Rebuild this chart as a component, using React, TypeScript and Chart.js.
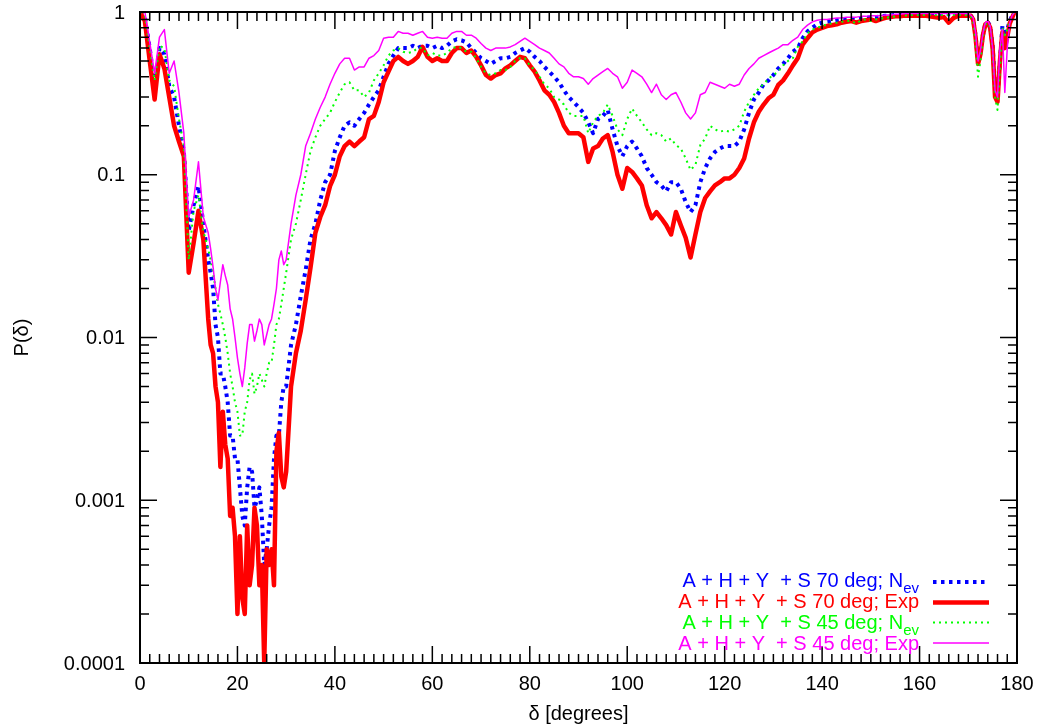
import React, { useEffect, useRef } from "react";
import { Chart, registerables } from "chart.js";

Chart.register(...registerables);

// ---------- data ----------
const DEGREES = [
  0, 1, 2, 3, 4, 5, 6, 7, 8, 9,
  10, 11, 12, 13,
  14, 14.5, 15, 15.5, 16, 16.5, 17, 17.5, 18, 18.5, 19, 19.5, 20, 20.5, 21, 21.5,
  22, 22.5, 23, 23.5, 24, 24.5, 25, 25.5, 26, 26.5, 27, 27.5, 28, 28.5, 29, 29.5,
  30, 31, 32, 33, 34, 35, 36, 37, 38, 39,
  40, 41, 42, 43, 44, 45, 46, 47, 48, 49,
  50, 51, 52, 53, 54, 55, 56, 57, 58, 59,
  60, 61, 62, 63, 64, 65, 66, 67, 68, 69,
  70, 71, 72, 73, 74, 75, 76, 77, 78, 79,
  80, 81, 82, 83, 84, 85, 86, 87, 88, 89,
  90, 91, 92, 93, 94, 95, 96, 97, 98, 99,
  100, 101, 102, 103, 104, 105, 106, 107, 108, 109,
  110, 111, 112, 113, 114, 115, 116, 117, 118, 119,
  120, 121, 122, 123, 124, 125, 126, 127, 128, 129,
  130, 131, 132, 133, 134, 135, 136, 137, 138, 139,
  140, 141, 142, 143, 144, 145, 146, 147, 148, 149,
  150, 151, 152, 153, 154, 155, 156, 157, 158, 159,
  160, 161, 162, 163, 164, 165, 166, 167, 168, 169,
  169.5, 170, 170.5, 171, 171.5, 172, 172.5, 173, 173.5, 174, 174.5,
  175, 175.5, 176, 176.5, 177, 177.5, 178, 178.5, 179, 179.5, 180,
];

// A + H + Y + S 70 deg; N_ev  (blue, dotted)
const P_S70_NEV = [
  1, 0.93, 0.6, 0.35, 0.6, 0.55, 0.35, 0.3, 0.2, 0.14,
  0.045, 0.065, 0.085, 0.05,
  0.03, 0.025, 0.02, 0.012, 0.01, 0.006, 0.006, 0.005, 0.004, 0.0025, 0.0025, 0.0018, 0.0018, 0.0012, 0.0008, 0.0007,
  0.0012, 0.0016, 0.0015, 0.0009, 0.001, 0.0012, 0.0008, 0.0004, 0.0005, 0.0007, 0.0009, 0.0018, 0.0025, 0.0025, 0.004, 0.005,
  0.005, 0.009, 0.012, 0.018, 0.026, 0.04, 0.05, 0.07, 0.09, 0.1,
  0.14, 0.17, 0.2, 0.21, 0.2, 0.22, 0.24, 0.27, 0.3, 0.33,
  0.4, 0.48, 0.54, 0.6, 0.6, 0.6, 0.62, 0.6, 0.62, 0.62,
  0.6, 0.62, 0.6, 0.62, 0.66, 0.68, 0.67, 0.65, 0.6, 0.56,
  0.52, 0.5, 0.48, 0.5, 0.52, 0.52, 0.53, 0.56, 0.58, 0.6,
  0.57, 0.53, 0.5, 0.46, 0.43, 0.4, 0.37, 0.33, 0.3, 0.28,
  0.26, 0.24, 0.21, 0.18, 0.22, 0.23, 0.25, 0.19, 0.15, 0.13,
  0.15, 0.16, 0.145, 0.13, 0.11, 0.1, 0.09, 0.086, 0.079, 0.09,
  0.09, 0.082, 0.068, 0.059, 0.065, 0.09, 0.11, 0.126, 0.138, 0.145,
  0.15, 0.15, 0.15, 0.16, 0.19, 0.24, 0.29, 0.32, 0.36, 0.38,
  0.41, 0.45, 0.48, 0.52, 0.57, 0.6, 0.69, 0.76, 0.8, 0.84,
  0.86, 0.87, 0.88, 0.89, 0.9, 0.9, 0.91, 0.9, 0.91, 0.92,
  0.93, 0.93, 0.94, 0.95, 0.95, 0.96, 0.96, 0.97, 0.97, 0.97,
  0.97, 0.97, 0.97, 0.97, 0.97, 0.97, 0.97, 0.97, 0.97, 0.97,
  0.97, 0.96, 0.95, 0.9, 0.72, 0.5, 0.55, 0.72, 0.85, 0.87, 0.82,
  0.62, 0.35, 0.3, 0.5, 0.82, 0.75, 0.78, 0.88, 0.95, 1, 1,
];

// A + H + Y + S 70 deg; Exp  (red, thick)
const P_S70_EXP = [
  1, 0.88, 0.5, 0.29, 0.55, 0.45, 0.3, 0.2, 0.16, 0.13,
  0.025, 0.038, 0.06, 0.04,
  0.013, 0.009, 0.008, 0.005, 0.004, 0.0016, 0.0035, 0.0022, 0.0018, 0.0008, 0.0009, 0.0006, 0.0002, 0.0006, 0.00025, 0.0002,
  0.0007, 0.0003, 0.0004, 0.0009, 0.0007, 0.0003, 0.0004, 0.0001, 0.0005, 0.0004, 0.0005, 0.0003, 0.002, 0.0026, 0.0014, 0.0012,
  0.0015, 0.005, 0.008, 0.011, 0.017, 0.027, 0.044, 0.055, 0.065, 0.085,
  0.1, 0.13, 0.15, 0.16, 0.15, 0.16, 0.17, 0.22, 0.23, 0.28,
  0.37, 0.43, 0.5, 0.53, 0.5, 0.48, 0.5, 0.53, 0.61, 0.53,
  0.5, 0.52, 0.5, 0.5, 0.56, 0.6, 0.6, 0.56, 0.58, 0.53,
  0.47, 0.41, 0.39, 0.41, 0.42, 0.45, 0.47, 0.5, 0.53, 0.52,
  0.47, 0.43, 0.38, 0.33, 0.31, 0.28, 0.24, 0.2, 0.18, 0.18,
  0.18, 0.17, 0.12, 0.145, 0.15, 0.167, 0.175, 0.138, 0.1, 0.082,
  0.11, 0.104, 0.095, 0.086, 0.065, 0.054, 0.059, 0.054, 0.049, 0.043,
  0.059, 0.049, 0.041, 0.031, 0.043, 0.059, 0.072, 0.079, 0.086, 0.09,
  0.095, 0.095, 0.1, 0.11, 0.126, 0.167, 0.21, 0.244, 0.27, 0.295,
  0.31, 0.356, 0.38, 0.42, 0.47, 0.52, 0.63, 0.69, 0.75, 0.78,
  0.8, 0.82, 0.83, 0.84, 0.86, 0.87, 0.88, 0.86, 0.88, 0.89,
  0.9, 0.88, 0.9, 0.92, 0.93, 0.94, 0.94, 0.95, 0.95, 0.95,
  0.95, 0.95, 0.94, 0.93, 0.92, 0.93, 0.86, 0.92, 0.95, 0.95,
  0.95, 0.95, 0.95, 0.9, 0.7, 0.48, 0.55, 0.72, 0.84, 0.86, 0.8,
  0.6, 0.3, 0.28, 0.5, 0.75, 0.6, 0.7, 0.85, 0.92, 1, 1,
];

// A + H + Y + S 45 deg; N_ev  (green, thin dotted)
const P_S45_NEV = [
  1, 0.95, 0.6, 0.38, 0.62, 0.6, 0.38, 0.35, 0.22, 0.15,
  0.03, 0.06, 0.075, 0.045,
  0.035, 0.03, 0.025, 0.02, 0.016, 0.014, 0.012, 0.01, 0.008, 0.006, 0.005, 0.004, 0.0035, 0.0025, 0.0025, 0.0035,
  0.004, 0.0055, 0.006, 0.0045, 0.005, 0.006, 0.0055, 0.005, 0.006, 0.007, 0.007, 0.009, 0.012, 0.013, 0.016, 0.02,
  0.025, 0.04, 0.05, 0.07, 0.1, 0.14, 0.17, 0.2, 0.22, 0.24,
  0.28, 0.32, 0.36, 0.37, 0.33, 0.33, 0.3, 0.32, 0.38, 0.42,
  0.47, 0.54, 0.58, 0.6, 0.57, 0.56, 0.57, 0.6, 0.6, 0.54,
  0.56, 0.54, 0.54, 0.56, 0.6, 0.61, 0.6, 0.57, 0.57, 0.52,
  0.46, 0.42, 0.41, 0.42, 0.44, 0.44, 0.46, 0.5, 0.52, 0.52,
  0.47, 0.44, 0.4, 0.36, 0.34, 0.3, 0.29, 0.27, 0.24, 0.23,
  0.23, 0.23, 0.18, 0.21, 0.23, 0.24, 0.27, 0.23, 0.19, 0.175,
  0.22, 0.255, 0.23, 0.21, 0.19, 0.175, 0.18, 0.175, 0.16, 0.167,
  0.152, 0.145, 0.126, 0.107, 0.115, 0.152, 0.167, 0.2, 0.19, 0.184,
  0.187, 0.184, 0.19, 0.2, 0.244, 0.28, 0.31, 0.34, 0.36, 0.39,
  0.41, 0.43, 0.47, 0.5, 0.52, 0.61, 0.66, 0.74, 0.78, 0.8,
  0.82, 0.84, 0.85, 0.86, 0.87, 0.88, 0.88, 0.85, 0.89, 0.9,
  0.88, 0.9, 0.91, 0.92, 0.93, 0.94, 0.94, 0.95, 0.96, 0.96,
  0.96, 0.96, 0.96, 0.96, 0.96, 0.96, 0.96, 0.96, 0.96, 0.96,
  0.96, 0.95, 0.94, 0.88, 0.65, 0.4, 0.5, 0.7, 0.84, 0.86, 0.8,
  0.58, 0.3, 0.25, 0.45, 0.8, 0.72, 0.78, 0.88, 0.95, 1, 1,
];

// A + H + Y + S 45 deg; Exp  (magenta, thin)
const P_S45_EXP = [
  1, 1, 0.65, 0.42, 0.7, 0.78, 0.42, 0.5, 0.32, 0.18,
  0.055, 0.07, 0.12, 0.055,
  0.044, 0.035, 0.027, 0.02, 0.017, 0.022, 0.028, 0.024, 0.021, 0.015, 0.013, 0.01, 0.0075, 0.006, 0.005, 0.0065,
  0.0092, 0.012, 0.012, 0.0095, 0.011, 0.013, 0.012, 0.009, 0.0104, 0.012, 0.013, 0.016, 0.02, 0.03, 0.034, 0.028,
  0.03, 0.05, 0.075, 0.1, 0.15, 0.18, 0.22, 0.26, 0.3, 0.36,
  0.42, 0.48, 0.52, 0.52, 0.44, 0.46, 0.46, 0.52, 0.54, 0.58,
  0.69, 0.7, 0.7, 0.76, 0.74, 0.74, 0.72, 0.74, 0.76, 0.7,
  0.69, 0.7, 0.69, 0.69, 0.74, 0.76, 0.76, 0.72, 0.72, 0.69,
  0.64, 0.6, 0.58, 0.6, 0.6, 0.6, 0.61, 0.63, 0.66, 0.69,
  0.66, 0.63, 0.6, 0.58, 0.56, 0.52, 0.48, 0.46, 0.42, 0.4,
  0.4, 0.39, 0.36, 0.39, 0.41, 0.43, 0.45, 0.42, 0.4, 0.34,
  0.37, 0.44, 0.42, 0.4, 0.36, 0.32, 0.36, 0.31, 0.29, 0.31,
  0.32, 0.28, 0.24, 0.22, 0.24, 0.31, 0.32, 0.37, 0.36, 0.35,
  0.34, 0.36, 0.35, 0.36, 0.41, 0.45, 0.48, 0.52, 0.54, 0.56,
  0.58, 0.6, 0.63, 0.63, 0.67, 0.7, 0.78, 0.83, 0.87, 0.89,
  0.9, 0.9, 0.91, 0.92, 0.92, 0.93, 0.93, 0.93, 0.94, 0.94,
  0.95, 0.95, 0.95, 0.96, 0.96, 0.97, 0.97, 0.98, 0.98, 0.98,
  0.98, 0.98, 0.98, 0.98, 0.98, 0.98, 0.98, 0.98, 0.98, 0.98,
  0.98, 0.97, 0.96, 0.92, 0.75, 0.5, 0.58, 0.74, 0.86, 0.88, 0.82,
  0.6, 0.33, 0.3, 0.6, 0.78, 0.32, 0.6, 0.85, 0.95, 1, 1,
];

const X_TICKS = [0, 20, 40, 60, 80, 100, 120, 140, 160, 180];
const X_MINOR_STEP = 2;
const Y_TICKS = [1, 0.1, 0.01, 0.001, 0.0001];
const Y_TICK_LABELS = ["1", "0.1", "0.01", "0.001", "0.0001"];
const Y_MINOR_MULTIPLIERS = [2, 3, 4, 5, 6, 7, 8, 9];

const LEGEND_TEXT = [
  { main: "A + H + Y  + S 70 deg; N", sub: "ev" },
  { main: "A + H + Y  + S 70 deg; Exp", sub: "" },
  { main: "A + H + Y  + S 45 deg; N", sub: "ev" },
  { main: "A + H + Y  + S 45 deg; Exp", sub: "" },
];

const X_TITLE = "δ [degrees]";
const Y_TITLE = "P(δ)";

// ---------- styles ----------
const FONT = "'Liberation Sans', Arial, Helvetica, sans-serif";
const STYLES = [
  { color: "#0000ff", width: 4, dash: [3.5, 4.5], order: 4 },
  { color: "#ff0000", width: 4.5, dash: [] as number[], order: 3 },
  { color: "#00ff00", width: 2, dash: [2, 4], order: 2 },
  { color: "#ff00ff", width: 1.5, dash: [] as number[], order: 1 },
];
const SERIES = [P_S70_NEV, P_S70_EXP, P_S45_NEV, P_S45_EXP];

const framePlugin = {
  id: "gnuframe",
  afterDatasetsDraw(chart: any) {
    const { ctx, chartArea: a } = chart;
    const xs = chart.scales.x;
    const ys = chart.scales.y;
    ctx.save();

    // tick marks (inward, mirrored)
    ctx.strokeStyle = "#000";
    ctx.lineWidth = 1.5;
    ctx.setLineDash([]);
    ctx.beginPath();
    const xMin = X_TICKS[0];
    const xMax = X_TICKS[X_TICKS.length - 1];
    for (let v = xMin; v <= xMax + 1e-9; v += X_MINOR_STEP) {
      const px = xs.getPixelForValue(v);
      const len = X_TICKS.includes(v) ? 17 : 9;
      ctx.moveTo(px, a.bottom);
      ctx.lineTo(px, a.bottom - len);
      ctx.moveTo(px, a.top);
      ctx.lineTo(px, a.top + len);
    }
    Y_TICKS.forEach((d) => {
      const py = ys.getPixelForValue(d);
      ctx.moveTo(a.left, py);
      ctx.lineTo(a.left + 17, py);
      ctx.moveTo(a.right, py);
      ctx.lineTo(a.right - 17, py);
      if (d < 1) {
        Y_MINOR_MULTIPLIERS.forEach((m) => {
          const pm = ys.getPixelForValue(d * m);
          ctx.moveTo(a.left, pm);
          ctx.lineTo(a.left + 9, pm);
          ctx.moveTo(a.right, pm);
          ctx.lineTo(a.right - 9, pm);
        });
      }
    });
    ctx.stroke();

    // border
    ctx.lineWidth = 2;
    ctx.strokeRect(a.left, a.top, a.right - a.left, a.bottom - a.top);

    // tick labels
    ctx.fillStyle = "#000";
    ctx.font = `20px ${FONT}`;
    ctx.textAlign = "center";
    ctx.textBaseline = "middle";
    X_TICKS.forEach((v) => ctx.fillText(String(v), xs.getPixelForValue(v), a.bottom + 21));
    ctx.textAlign = "right";
    Y_TICKS.forEach((v, i) => ctx.fillText(Y_TICK_LABELS[i], a.left - 15, ys.getPixelForValue(v) + 1));

    // axis titles
    ctx.textAlign = "center";
    ctx.fillText(X_TITLE, (a.left + a.right) / 2, a.bottom + 51);
    ctx.save();
    ctx.translate(22, (a.top + a.bottom) / 2);
    ctx.rotate(-Math.PI / 2);
    ctx.fillText(Y_TITLE, 0, 0);
    ctx.restore();

    // legend
    const textRight = 919;
    const baselines = [587, 608, 629, 650];
    const lineYs = [582, 602.5, 622.5, 643];
    LEGEND_TEXT.forEach((item, i) => {
      const st = STYLES[i];
      ctx.fillStyle = st.color;
      ctx.textBaseline = "alphabetic";
      let right = textRight;
      if (item.sub) {
        ctx.font = `15px ${FONT}`;
        const w = ctx.measureText(item.sub).width;
        ctx.textAlign = "left";
        ctx.fillText(item.sub, textRight - w, baselines[i] + 6);
        right = textRight - w;
      }
      ctx.font = `20px ${FONT}`;
      ctx.textAlign = "right";
      ctx.fillText(item.main, right, baselines[i]);
      ctx.strokeStyle = st.color;
      ctx.lineWidth = st.width;
      ctx.setLineDash(st.dash);
      ctx.beginPath();
      ctx.moveTo(933, lineYs[i]);
      ctx.lineTo(989, lineYs[i]);
      ctx.stroke();
    });

    ctx.restore();
  },
};

export default function App() {
  const ref = useRef<HTMLCanvasElement>(null);
  useEffect(() => {
    if (!ref.current) return;
    const datasets = SERIES.map((arr, i) => ({
      label: LEGEND_TEXT[i].main + LEGEND_TEXT[i].sub,
      data: DEGREES.map((x, j) => ({ x, y: arr[j] })),
      borderColor: STYLES[i].color,
      backgroundColor: STYLES[i].color,
      borderWidth: STYLES[i].width,
      borderDash: STYLES[i].dash,
      borderJoinStyle: "round" as const,
      pointRadius: 0,
      tension: 0,
      fill: false,
      order: STYLES[i].order,
      clip: 0,
    }));
    const hideScale = {
      grid: { display: false, drawTicks: false },
      border: { display: false },
      ticks: { display: false },
      title: { display: false },
    };
    const chart = new Chart(ref.current, {
      type: "line",
      data: { datasets },
      plugins: [framePlugin],
      options: {
        animation: false,
        responsive: false,
        devicePixelRatio: 1,
        layout: { padding: { left: 140, right: 21, top: 12, bottom: 63 } },
        plugins: { legend: { display: false }, tooltip: { enabled: false } },
        events: [],
        scales: {
          x: {
            type: "linear",
            min: 0,
            max: 180,
            ...hideScale,
            afterFit: (s: any) => {
              s.height = 0;
            },
          },
          y: {
            type: "logarithmic",
            min: 0.0001,
            max: 1,
            ...hideScale,
            afterFit: (s: any) => {
              s.width = 0;
            },
          },
        },
      } as any,
    });
    return () => chart.destroy();
  }, []);
  return (
    <div style={{ position: "fixed", left: 0, top: 0, width: 1038, height: 726, background: "#fff" }}>
      <canvas ref={ref} width={1038} height={726} style={{ display: "block", width: 1038, height: 726 }} />
    </div>
  );
}
